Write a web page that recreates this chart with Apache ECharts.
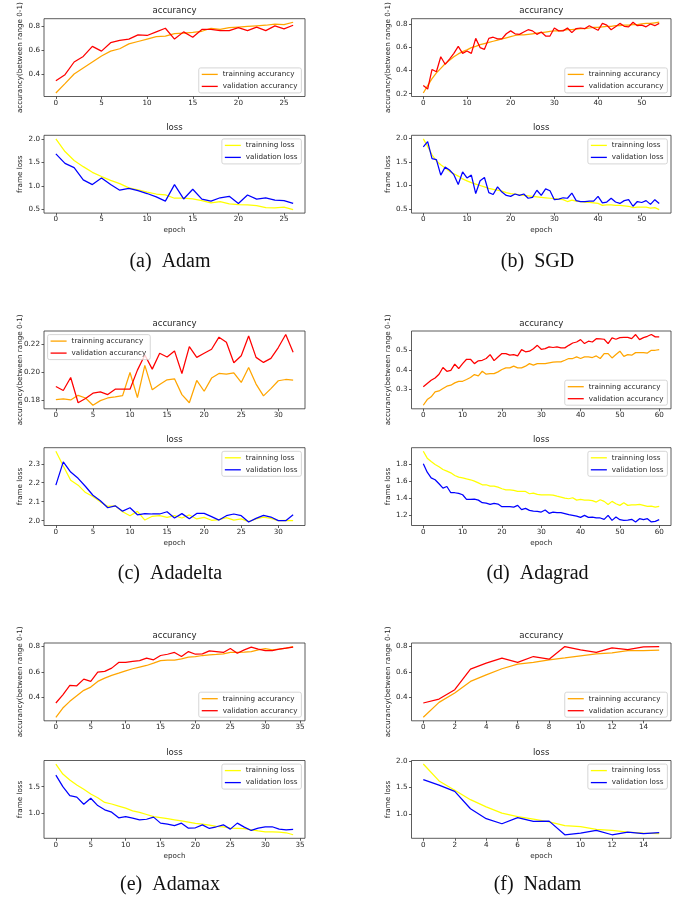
<!DOCTYPE html>
<html><head><meta charset="utf-8">
<script src="https://cdn.jsdelivr.net/npm/echarts@6/dist/echarts.min.js"></script>
<style>html,body{margin:0;padding:0;background:#fff}#c{width:689px;height:899px}</style>
</head><body><div id="c"></div>
<script>
// ---------------- data ----------------
const captions = ['(a)  Adam', '(b)  SGD', '(c)  Adadelta', '(d)  Adagrad', '(e)  Adamax', '(f)  Nadam'];

const adamTrainAcc = [0.243,0.32,0.40,0.45,0.50,0.55,0.59,0.61,0.65,0.67,0.69,0.71,0.715,0.735,0.74,0.745,0.755,0.78,0.77,0.785,0.79,0.795,0.80,0.805,0.815,0.81,0.83];
const adamValAcc = [0.345,0.395,0.50,0.546,0.63,0.59,0.66,0.68,0.69,0.725,0.72,0.75,0.78,0.69,0.75,0.705,0.77,0.77,0.76,0.76,0.785,0.76,0.79,0.76,0.80,0.775,0.805];
const adamTrainLoss = [2.0,1.73,1.54,1.41,1.29,1.2,1.12,1.05,0.96,0.92,0.87,0.83,0.81,0.74,0.74,0.725,0.69,0.64,0.67,0.62,0.605,0.6,0.585,0.54,0.535,0.55,0.5];
const adamValLoss = [1.68,1.48,1.39,1.13,1.03,1.17,1.03,0.91,0.95,0.9,0.84,0.77,0.68,1.03,0.725,0.93,0.72,0.68,0.75,0.78,0.63,0.81,0.72,0.75,0.7,0.69,0.63];

const sgdTrainAcc = [0.206,0.27,0.33,0.38,0.42,0.46,0.49,0.52,0.545,0.565,0.58,0.60,0.61,0.625,0.635,0.645,0.655,0.665,0.675,0.685,0.695,0.705,0.71,0.71,0.715,0.72,0.725,0.73,0.735,0.74,0.745,0.745,0.75,0.755,0.755,0.76,0.765,0.765,0.77,0.775,0.775,0.78,0.785,0.785,0.79,0.79,0.795,0.795,0.80,0.80,0.805,0.81,0.81,0.815,0.82];
const sgdValAcc = [0.27,0.24,0.41,0.39,0.52,0.455,0.50,0.55,0.61,0.55,0.57,0.55,0.68,0.60,0.585,0.68,0.69,0.675,0.675,0.72,0.745,0.72,0.715,0.735,0.755,0.745,0.715,0.735,0.70,0.70,0.77,0.745,0.745,0.77,0.73,0.765,0.77,0.765,0.79,0.77,0.75,0.81,0.795,0.755,0.78,0.81,0.785,0.78,0.82,0.79,0.795,0.78,0.805,0.79,0.81];
const sgdTrainLoss = [1.99,1.83,1.65,1.52,1.44,1.37,1.30,1.25,1.20,1.14,1.10,1.06,1.03,1.0,0.97,0.94,0.92,0.90,0.88,0.85,0.83,0.82,0.80,0.79,0.78,0.77,0.76,0.75,0.74,0.73,0.72,0.71,0.70,0.66,0.69,0.67,0.66,0.65,0.64,0.63,0.62,0.58,0.59,0.59,0.58,0.58,0.57,0.56,0.53,0.54,0.54,0.54,0.52,0.53,0.49];
const sgdValLoss = [1.82,1.93,1.57,1.55,1.22,1.39,1.33,1.23,1.02,1.29,1.16,1.22,0.83,1.10,1.17,0.85,0.81,0.97,0.86,0.79,0.77,0.82,0.79,0.82,0.73,0.75,0.90,0.79,0.93,0.89,0.70,0.71,0.74,0.73,0.84,0.68,0.66,0.66,0.67,0.67,0.77,0.63,0.65,0.73,0.65,0.62,0.68,0.70,0.56,0.66,0.64,0.68,0.60,0.70,0.62];

const adadeltaTrainAcc = [0.1802,0.1807,0.1800,0.1833,0.1814,0.1762,0.1795,0.1814,0.1822,0.1831,0.1996,0.1817,0.2047,0.1872,0.1910,0.1944,0.1951,0.1838,0.1780,0.1939,0.1862,0.1956,0.1989,0.1984,0.1994,0.1925,0.2032,0.1913,0.1829,0.1881,0.1937,0.1946,0.1941];
const adadeltaValAcc = [0.1896,0.1867,0.1960,0.1780,0.1810,0.1848,0.1857,0.1838,0.1877,0.1877,0.1877,0.2013,0.2121,0.2020,0.2133,0.2107,0.2150,0.1989,0.2181,0.2104,0.2133,0.2162,0.2248,0.2212,0.2066,0.2116,0.2257,0.2104,0.2068,0.2097,0.2174,0.2267,0.2140];
const adadeltaTrainLoss = [2.366,2.288,2.213,2.187,2.148,2.127,2.099,2.075,2.078,2.047,2.026,2.049,2.003,2.023,2.026,2.017,2.026,2.014,2.030,2.009,2.017,2.002,2.005,2.016,2.003,2.009,1.995,2.009,2.019,2.012,2.000,2.002,2.000];
const adadeltaValLoss = [2.187,2.310,2.256,2.223,2.180,2.134,2.105,2.068,2.078,2.050,2.068,2.031,2.037,2.035,2.035,2.047,2.014,2.037,2.010,2.038,2.038,2.021,2.003,2.026,2.035,2.026,1.993,2.012,2.028,2.019,2.000,2.000,2.031];

const adagradTrainAcc = [0.220,0.249,0.263,0.288,0.293,0.305,0.317,0.322,0.334,0.342,0.342,0.351,0.361,0.376,0.370,0.393,0.378,0.381,0.381,0.390,0.402,0.410,0.410,0.419,0.410,0.410,0.419,0.432,0.424,0.432,0.432,0.432,0.436,0.439,0.441,0.441,0.449,0.458,0.458,0.466,0.458,0.466,0.466,0.463,0.471,0.458,0.483,0.483,0.461,0.478,0.495,0.469,0.478,0.475,0.488,0.488,0.488,0.486,0.500,0.500,0.503];
const adagradValAcc = [0.314,0.331,0.347,0.359,0.378,0.412,0.393,0.398,0.429,0.407,0.432,0.454,0.454,0.432,0.446,0.449,0.458,0.478,0.447,0.466,0.483,0.483,0.475,0.478,0.471,0.503,0.492,0.495,0.508,0.525,0.505,0.508,0.517,0.514,0.517,0.512,0.512,0.525,0.537,0.542,0.554,0.534,0.546,0.542,0.559,0.558,0.556,0.534,0.563,0.556,0.564,0.566,0.566,0.559,0.580,0.554,0.564,0.571,0.580,0.568,0.568];
const adagradTrainLoss = [1.957,1.875,1.835,1.800,1.773,1.741,1.722,1.702,1.671,1.651,1.643,1.631,1.620,1.604,1.584,1.561,1.561,1.545,1.545,1.533,1.514,1.502,1.502,1.494,1.482,1.482,1.482,1.455,1.463,1.447,1.443,1.443,1.443,1.439,1.427,1.416,1.404,1.396,1.408,1.380,1.388,1.380,1.380,1.373,1.357,1.384,1.365,1.329,1.365,1.337,1.318,1.349,1.318,1.325,1.325,1.329,1.318,1.306,1.310,1.298,1.306];
const adagradValLoss = [1.808,1.710,1.643,1.620,1.573,1.522,1.541,1.467,1.467,1.459,1.443,1.388,1.388,1.392,1.380,1.349,1.345,1.329,1.341,1.333,1.302,1.302,1.302,1.298,1.318,1.267,1.282,1.259,1.251,1.247,1.239,1.263,1.224,1.239,1.231,1.231,1.220,1.208,1.200,1.192,1.176,1.200,1.176,1.180,1.169,1.169,1.153,1.200,1.141,1.180,1.149,1.141,1.145,1.153,1.122,1.161,1.149,1.161,1.122,1.129,1.149];

const adamaxTrainAcc = [0.240,0.313,0.366,0.410,0.453,0.479,0.524,0.550,0.571,0.589,0.608,0.624,0.637,0.650,0.668,0.689,0.692,0.692,0.703,0.716,0.721,0.729,0.734,0.737,0.742,0.753,0.753,0.755,0.760,0.774,0.784,0.774,0.779,0.787,0.800];
const adamaxValAcc = [0.353,0.418,0.492,0.489,0.542,0.524,0.597,0.603,0.629,0.674,0.674,0.682,0.689,0.708,0.695,0.729,0.739,0.753,0.721,0.760,0.739,0.742,0.766,0.760,0.753,0.784,0.747,0.774,0.795,0.779,0.768,0.768,0.779,0.787,0.795];
const adamaxTrainLoss = [1.93,1.74,1.626,1.53,1.45,1.36,1.29,1.20,1.17,1.13,1.09,1.04,1.01,0.97,0.93,0.91,0.89,0.87,0.85,0.825,0.80,0.787,0.768,0.743,0.737,0.71,0.705,0.70,0.68,0.66,0.642,0.642,0.636,0.623,0.585];
const adamaxValLoss = [1.72,1.50,1.33,1.30,1.166,1.28,1.14,1.06,1.014,0.907,0.93,0.90,0.87,0.88,0.92,0.806,0.787,0.76,0.806,0.71,0.718,0.774,0.705,0.737,0.774,0.692,0.806,0.73,0.667,0.71,0.737,0.737,0.692,0.68,0.686];

const nadamTrainAcc = [0.24,0.358,0.432,0.524,0.576,0.624,0.66,0.674,0.695,0.71,0.726,0.742,0.75,0.768,0.768,0.771];
const nadamValAcc = [0.353,0.384,0.458,0.621,0.668,0.708,0.674,0.721,0.70,0.80,0.774,0.753,0.789,0.776,0.797,0.80];
const nadamTrainLoss = [1.94,1.625,1.45,1.275,1.14,1.025,0.96,0.91,0.86,0.79,0.77,0.72,0.70,0.67,0.65,0.64];
const nadamValLoss = [1.65,1.545,1.43,1.105,0.92,0.825,0.94,0.87,0.875,0.62,0.65,0.70,0.62,0.67,0.64,0.66];

// tick labels
const adamXTicks = [0,5,10,15,20,25];
const adamAccTicks = ['0.4','0.6','0.8'];
const adamLossTicks = ['0.5','1.0','1.5','2.0'];
const sgdXTicks = [0,10,20,30,40,50];
const sgdAccTicks = ['0.2','0.4','0.6','0.8'];
const sgdLossTicks = ['0.5','1.0','1.5','2.0'];
const adadeltaXTicks = [0,5,10,15,20,25,30];
const adadeltaAccTicks = ['0.18','0.20','0.22'];
const adadeltaLossTicks = ['2.0','2.1','2.2','2.3'];
const adagradXTicks = [0,10,20,30,40,50,60];
const adagradAccTicks = ['0.3','0.4','0.5'];
const adagradLossTicks = ['1.2','1.4','1.6','1.8'];
const adamaxXTicks = [0,5,10,15,20,25,30,35];
const adamaxAccTicks = ['0.4','0.6','0.8'];
const adamaxLossTicks = ['1.0','1.5'];
const nadamXTicks = [0,2,4,6,8,10,12,14];
const nadamAccTicks = ['0.4','0.6','0.8'];
const nadamLossTicks = ['1.0','1.5','2.0'];

const accNames = ['trainning accurancy', 'validation accurancy'];
const lossNames = ['trainning loss', 'validation loss'];

const panels = [
  {acc:[adamTrainAcc, adamValAcc], loss:[adamTrainLoss, adamValLoss], xt:adamXTicks, at:adamAccTicks, lt:adamLossTicks},
  {acc:[sgdTrainAcc, sgdValAcc], loss:[sgdTrainLoss, sgdValLoss], xt:sgdXTicks, at:sgdAccTicks, lt:sgdLossTicks},
  {acc:[adadeltaTrainAcc, adadeltaValAcc], loss:[adadeltaTrainLoss, adadeltaValLoss], xt:adadeltaXTicks, at:adadeltaAccTicks, lt:adadeltaLossTicks},
  {acc:[adagradTrainAcc, adagradValAcc], loss:[adagradTrainLoss, adagradValLoss], xt:adagradXTicks, at:adagradAccTicks, lt:adagradLossTicks},
  {acc:[adamaxTrainAcc, adamaxValAcc], loss:[adamaxTrainLoss, adamaxValLoss], xt:adamaxXTicks, at:adamaxAccTicks, lt:adamaxLossTicks},
  {acc:[nadamTrainAcc, nadamValAcc], loss:[nadamTrainLoss, nadamValLoss], xt:nadamXTicks, at:nadamAccTicks, lt:nadamLossTicks}
];

// ---------------- layout & style ----------------
const W = 689, HT = 899;
const FONT = 'DejaVu Sans', TXT = '#262626', EDGE = '#333333';
const cols = [{left:44, width:261, cap:170}, {left:411.5, width:259.5, cap:537.5}];
const accTop = [18.7, 331, 643], lossTop = [135.3, 447.7, 760.5], BOXH = 77.8, capY = [261.3, 573.3, 885];
const accLegendPos = ['lr','lr','ul','lr','lr','lr'];
const accColors = ['#FFA500', '#FF0000'];
const lossColors = ['#FFFF00', '#0000FF'];

const grids = [], xAxes = [], yAxes = [], series = [], legends = [], graphics = [];
const padOf = v => (v.max - v.min) * 0.05;

function addPlot(box, lines, names, colors, xTicks, yTicks, title, ylabel, legendPos, withX) {
  const gi = grids.length;
  grids.push({left:box.left, top:box.top, width:box.width, height:box.height, show:true,
    borderColor:EDGE, borderWidth:0.8, backgroundColor:'transparent'});
  const dec = (yTicks[0].split('.')[1] || '').length;
  const yVals = yTicks.map(Number);
  xAxes.push({type:'value', gridIndex:gi, min:v => v.min - padOf(v), max:v => v.max + padOf(v),
    splitLine:{show:false}, axisLine:{show:false, onZero:false},
    axisTick:{show:true, length:2.5, customValues:xTicks, lineStyle:{color:EDGE, width:0.8}},
    axisLabel:{customValues:xTicks, margin:3, fontSize:7.2, color:TXT, fontFamily:FONT}});
  yAxes.push({type:'value', gridIndex:gi, scale:true, min:v => v.min - padOf(v), max:v => v.max + padOf(v),
    splitLine:{show:false}, axisLine:{show:false, onZero:false},
    axisTick:{show:true, length:2.5, customValues:yVals, lineStyle:{color:EDGE, width:0.8}},
    axisLabel:{customValues:yVals, margin:4, fontSize:7.2, color:TXT, fontFamily:FONT,
      formatter:v => Number(v).toFixed(dec)}});
  lines.forEach((arr, k) => {
    series.push({type:'line', name:names[k], xAxisIndex:gi, yAxisIndex:gi,
      data:arr.map((v, i) => [i, v]), symbol:'none', showSymbol:false, silent:true,
      lineStyle:{color:colors[k], width:1.25}, itemStyle:{color:colors[k]}, z:2});
  });
  const L = {orient:'vertical', data:names, icon:'rect', itemWidth:16, itemHeight:1.3, itemGap:4,
    padding:[2.5,4,2.5,3], backgroundColor:'rgba(255,255,255,0.8)', borderColor:'#cccccc',
    borderWidth:0.8, borderRadius:2, selectedMode:false,
    textStyle:{fontSize:7.2, color:TXT, fontFamily:FONT, lineHeight:8}};
  const inset = 3.6;
  if (legendPos[1] === 'r') L.right = W - (box.left + box.width) + inset; else L.left = box.left + inset;
  if (legendPos[0] === 'l') L.bottom = HT - (box.top + box.height) + inset; else L.top = box.top + inset;
  legends.push(L);
  graphics.push({type:'text', x:box.left + box.width / 2, y:box.top - 7.5,
    style:{text:title, fontSize:8.6, fontFamily:FONT, fill:TXT, align:'center', verticalAlign:'middle'}});
  graphics.push({type:'text', x:box.left - 23.5, y:box.top + box.height / 2, rotation:Math.PI / 2,
    style:{text:ylabel, fontSize:7.2, fontFamily:FONT, fill:TXT, align:'center', verticalAlign:'middle'}});
  if (withX) {
    graphics.push({type:'text', x:box.left + box.width / 2, y:box.top + box.height + 17.5,
      style:{text:'epoch', fontSize:7.2, fontFamily:FONT, fill:TXT, align:'center', verticalAlign:'middle'}});
  }
}

panels.forEach((p, idx) => {
  const col = cols[idx % 2], row = Math.floor(idx / 2);
  addPlot({left:col.left, width:col.width, top:accTop[row], height:BOXH}, p.acc, accNames, accColors,
    p.xt, p.at, 'accurancy', 'accurancy(between range 0-1)', accLegendPos[idx], false);
  addPlot({left:col.left, width:col.width, top:lossTop[row], height:BOXH}, p.loss, lossNames, lossColors,
    p.xt, p.lt, 'loss', 'frame loss', 'ur', true);
  graphics.push({type:'text', x:col.cap, y:capY[row],
    style:{text:captions[idx], fontSize:20, fontFamily:'Liberation Serif', fill:'#111', align:'center', verticalAlign:'middle'}});
});

const chart = echarts.init(document.getElementById('c'), null, {renderer:'canvas', width:W, height:HT});
chart.setOption({
  animation:false, backgroundColor:'#ffffff',
  grid:grids, xAxis:xAxes, yAxis:yAxes, series:series, legend:legends, graphic:graphics
});
</script>
</body></html>
